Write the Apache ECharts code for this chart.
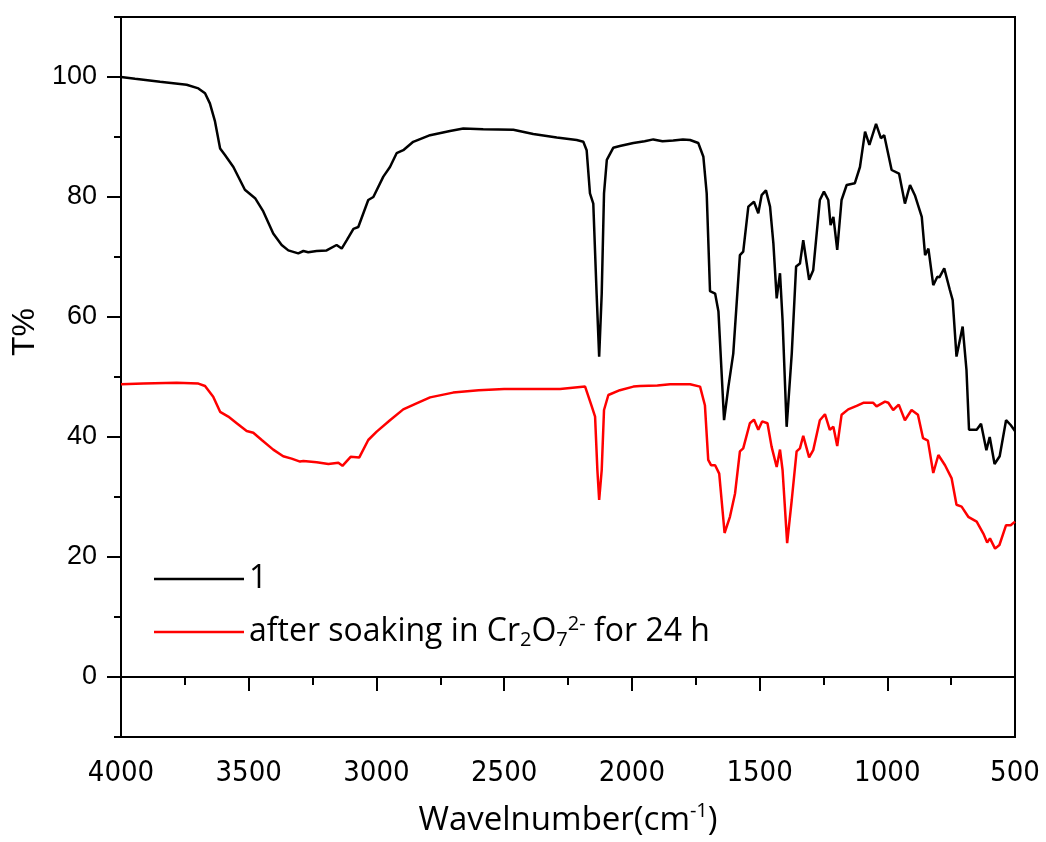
<!DOCTYPE html>
<html>
<head>
<meta charset="UTF-8">
<title>FT-IR</title>
<script src="https://cdn.jsdelivr.net/npm/echarts@6/dist/echarts.min.js"></script>
<style>
html, body { margin: 0; padding: 0; background: #fff; }
#main { width: 1046px; height: 842px; }
</style>
</head>
<body>
<div id="main"></div>
<script>
// wavenumber (cm-1) / transmittance (%)
var wnBlack = [4000, 3945, 3847, 3743, 3697, 3671, 3652, 3632, 3612, 3593, 3560, 3515, 3475, 3443, 3404, 3371, 3345, 3306, 3286, 3267, 3234, 3195, 3156, 3136, 3116, 3090, 3071, 3032, 3012, 2973, 2947, 2921, 2895, 2856, 2790, 2712, 2660, 2582, 2464, 2386, 2294, 2216, 2190, 2177, 2164, 2151, 2138, 2128, 2118, 2109, 2098, 2073, 2047, 1994, 1950, 1916, 1880, 1838, 1800, 1772, 1740, 1720, 1707, 1694, 1674, 1661, 1639, 1622, 1603, 1577, 1564, 1544, 1522, 1505, 1492, 1475, 1459, 1446, 1433, 1420, 1410, 1394, 1374, 1357, 1342, 1329, 1306, 1290, 1264, 1248, 1231, 1222, 1211, 1196, 1179, 1159, 1127, 1107, 1087, 1070, 1044, 1025, 1012, 983, 954, 931, 911, 892, 865, 852, 839, 820, 804, 796, 777, 755, 744, 729, 705, 690, 680, 650, 633, 612, 599, 580, 560, 535, 517, 500];
var tBlack = [100, 99.7, 99.2, 98.7, 98.1, 97.3, 95.6, 92.6, 88.1, 87, 85, 81.2, 79.8, 77.6, 73.9, 72, 71.1, 70.6, 71, 70.8, 71, 71.1, 72, 71.4, 72.8, 74.7, 75, 79.5, 80, 83.4, 85, 87.3, 87.8, 89.2, 90.3, 91, 91.4, 91.3, 91.2, 90.5, 89.9, 89.5, 89.2, 87.8, 80.6, 78.9, 63.9, 53.4, 63.9, 80.6, 86.2, 88.2, 88.5, 89, 89.3, 89.6, 89.3, 89.4, 89.6, 89.5, 89, 86.7, 80.6, 64.3, 63.9, 60.9, 42.8, 48.4, 53.9, 70.3, 70.9, 78.4, 79.2, 77.3, 80.3, 81.1, 78.4, 72.3, 63.1, 67.3, 59.5, 41.7, 53.9, 68.4, 68.9, 72.8, 66.2, 67.8, 79.5, 80.9, 79.5, 75.3, 76.7, 71.2, 79.5, 82, 82.3, 85, 90.9, 88.7, 92.2, 89.8, 90.3, 84.5, 83.9, 78.9, 82, 80.3, 76.7, 70.3, 71.4, 65.3, 66.7, 66.6, 68.1, 64.5, 62.8, 53.4, 58.4, 51.2, 41.2, 41.2, 42.2, 37.8, 40, 35.5, 36.8, 42.8, 42, 41];

var wnRed = [4000, 3913, 3782, 3697, 3671, 3639, 3612, 3580, 3547, 3508, 3482, 3449, 3404, 3365, 3332, 3299, 3286, 3234, 3188, 3149, 3133, 3101, 3067, 3032, 2999, 2947, 2895, 2843, 2790, 2700, 2600, 2500, 2400, 2281, 2183, 2157, 2144, 2135, 2128, 2118, 2109, 2092, 2047, 1994, 1968, 1900, 1850, 1772, 1733, 1714, 1701, 1690, 1674, 1658, 1637, 1616, 1596, 1577, 1564, 1538, 1522, 1505, 1490, 1469, 1453, 1433, 1420, 1410, 1392, 1374, 1355, 1342, 1329, 1306, 1290, 1264, 1244, 1225, 1211, 1196, 1179, 1153, 1120, 1094, 1055, 1042, 1009, 996, 977, 955, 931, 905, 880, 860, 841, 820, 800, 774, 748, 729, 709, 683, 650, 624, 609, 598, 578, 561, 535, 517, 500];
var tRed = [48.8, 48.9, 49.05, 48.9, 48.5, 46.7, 44.2, 43.4, 42.3, 41, 40.7, 39.5, 37.9, 36.8, 36.4, 35.9, 36, 35.8, 35.5, 35.7, 35.2, 36.7, 36.6, 39.5, 40.9, 42.8, 44.6, 45.6, 46.6, 47.4, 47.8, 48, 48, 48, 48.4, 45.1, 43.4, 34.5, 29.5, 34.5, 44.5, 47, 47.8, 48.4, 48.5, 48.6, 48.8, 48.8, 48.4, 45.3, 36.2, 35.3, 35.3, 33.9, 24, 26.7, 30.6, 37.6, 38.1, 42.3, 42.9, 41.2, 42.6, 42.3, 38.4, 35, 37.9, 34.5, 22.3, 29.5, 37.6, 38.1, 40.2, 36.6, 37.8, 42.8, 43.8, 41.2, 41.7, 38.5, 43.7, 44.6, 45.2, 45.7, 45.7, 45.1, 45.9, 45.7, 44.5, 45.4, 42.8, 44.5, 43.7, 39.8, 39.4, 34, 37, 35.3, 33.1, 28.7, 28.4, 26.7, 25.9, 23.9, 22.4, 23.1, 21.4, 22, 25.3, 25.3, 25.9];

var yMajor = [0, 20, 40, 60, 80, 100];
var yMinor = [-10, 10, 30, 50, 70, 90, 110];
var names = ['1', 'after soaking in Cr2O7 2- for 24 h'];
var legendText = ['1', 'after soaking in Cr{sub|2}O{sub|7}{sup|2-} for 24 h'];

function pairs(xs, ys) {
	var out = [];
	for (var i = 0; i < xs.length; i++) out.push([xs[i], ys[i]]);
	return out;
}

var myChart = echarts.init(document.getElementById('main'));
var axisCol = '#000';
var labelFont = 'Open Sans';
var option = {
	animation : false,
	grid : {
		left : 121,
		right : 31,
		top : 17,
		bottom : 105,
		outerBoundsMode : 'none',
		show : true,
		borderColor : axisCol,
		borderWidth : 2
	},
	legend : {
		orient : 'vertical',
		left : 154,
		top : 561,
		padding : 0,
		icon : 'rect',
		itemWidth : 90,
		itemHeight : 2.5,
		itemGap : 17,
		data : names,
		formatter : function(n) {
			return legendText[names.indexOf(n)];
		},
		textStyle : {
			color : '#000',
			fontFamily : labelFont,
			fontSize : 32,
			lineHeight : 36,
			rich : {
				sub : { fontSize : 20, verticalAlign : 'bottom', lineHeight : 36, fontFamily : labelFont },
				sup : { fontSize : 20, verticalAlign : 'top', lineHeight : 36, fontFamily : labelFont }
			}
		}
	},
	xAxis : {
		type : 'value',
		inverse : true,
		min : 500,
		max : 4000,
		interval : 500,
		name : 'Wavelnumber(cm{sup|-1})',
		nameLocation : 'middle',
		nameGap : 64,
		nameTextStyle : {
			color : '#000',
			fontFamily : labelFont,
			fontSize : 33,
			lineHeight : 40,
			rich : {
				sup : { fontSize : 20, verticalAlign : 'top', lineHeight : 40, fontFamily : labelFont }
			}
		},
		axisLine : { lineStyle : { color : axisCol, width : 2 } },
		axisTick : { length : 14, lineStyle : { color : axisCol, width : 2 } },
		minorTick : { show : true, splitNumber : 2, length : 8, lineStyle : { color : axisCol, width : 2 } },
		splitLine : { show : false },
		axisLabel : {
			color : '#000',
			fontFamily : '"DejaVu Sans Condensed", "Liberation Sans Narrow", "Liberation Sans", sans-serif',
			fontSize : 29,
			margin : 22,
			formatter : function(v) { return String(v); }
		}
	},
	yAxis : [ {
		type : 'value',
		min : -10,
		max : 110,
		interval : 10,
		name : 'T%',
		nameLocation : 'middle',
		nameGap : 73,
		nameTextStyle : {
			color : '#000',
			fontFamily : 'Liberation Sans',
			fontSize : 32,
			padding : [0, 0, 0, 90]
		},
		axisLine : { lineStyle : { color : axisCol, width : 2 } },
		axisTick : { customValues : yMajor, length : 14, lineStyle : { color : axisCol, width : 2 } },
		splitLine : { show : false },
		axisLabel : {
			customValues : yMajor,
			color : '#000',
			fontFamily : 'Liberation Sans',
			fontSize : 27,
			margin : 24
		}
	}, {
		type : 'value',
		min : -10,
		max : 110,
		interval : 10,
		position : 'left',
		axisLine : { show : false },
		axisTick : { customValues : yMinor, length : 7, lineStyle : { color : axisCol, width : 2 } },
		axisLabel : { show : false },
		splitLine : { show : false }
	} ],
	series : [ {
		name : names[0],
		type : 'line',
		symbol : 'none',
		data : pairs(wnBlack, tBlack),
		lineStyle : { color : '#000', width : 2.5 },
		itemStyle : { color : '#000' }
	}, {
		name : names[1],
		type : 'line',
		symbol : 'none',
		data : pairs(wnRed, tRed),
		lineStyle : { color : '#ff0000', width : 2.5 },
		itemStyle : { color : '#ff0000' }
	} ]
};
myChart.setOption(option);
</script>
</body>
</html>
